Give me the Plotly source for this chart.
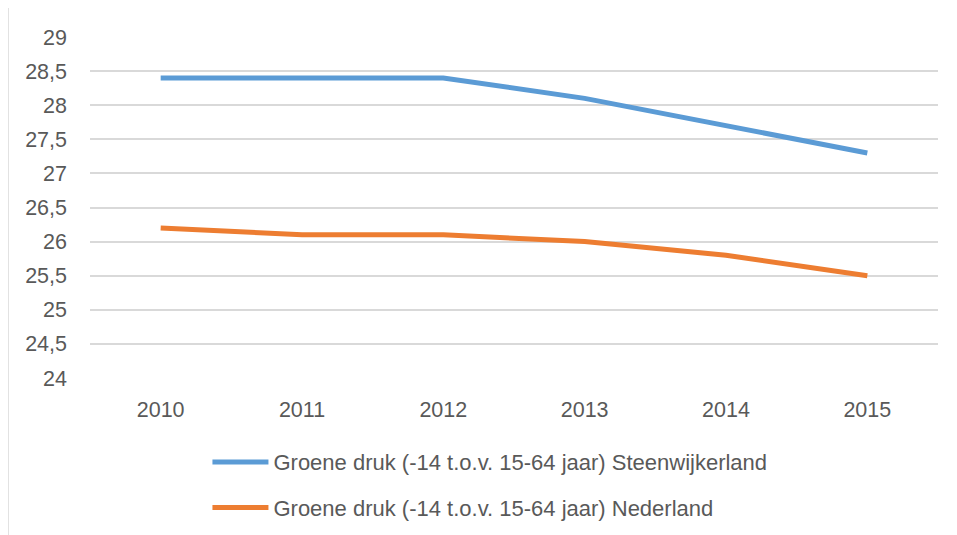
import plotly.graph_objects as go

years = ["2010", "2011", "2012", "2013", "2014", "2015"]
steenwijkerland = [28.4, 28.4, 28.4, 28.1, 27.7, 27.3]
nederland = [26.2, 26.1, 26.1, 26.0, 25.8, 25.5]
name_s = "Groene druk (-14 t.o.v. 15-64 jaar) Steenwijkerland"
name_n = "Groene druk (-14 t.o.v. 15-64 jaar) Nederland"

FONT = "Liberation Sans"
TXT = "#595959"
GRID = "#d9d9d9"

fig = go.Figure()
fig.add_trace(go.Scatter(x=years, y=steenwijkerland, mode="lines", name=name_s,
                         line=dict(color="#5B9BD5", width=5), legendgroup="a"))
fig.add_trace(go.Scatter(x=years, y=nederland, mode="lines", name=name_n,
                         line=dict(color="#ED7D31", width=5), legendgroup="b"))

fig.update_layout(
    width=949, height=527,
    margin=dict(l=82, r=19, t=29, b=157, autoexpand=False),
    paper_bgcolor="white", plot_bgcolor="white",
    separators=",.",
    font=dict(family=FONT, size=21.5, color=TXT),
    xaxis=dict(type="category", range=[-0.5, 5.5], showgrid=False, zeroline=False,
               showline=False, ticks="", ticklabelstandoff=16, automargin=False,
               tickfont=dict(family=FONT, size=21.5, color=TXT)),
    yaxis=dict(range=[24, 29], dtick=0.5, tick0=24, showgrid=True, gridcolor=GRID,
               gridwidth=1.5, zeroline=False, showline=False, ticks="", automargin=False,
               ticklabelstandoff=22, tickfont=dict(family=FONT, size=21.5, color=TXT)),
    showlegend=True,
    legend=dict(orientation="v", x=0.1385, xanchor="left", y=-0.185, yanchor="top",
                font=dict(family=FONT, size=22, color=TXT), itemwidth=56,
                tracegroupgap=14, bgcolor="rgba(0,0,0,0)"),
    shapes=[dict(type="rect", xref="paper", yref="paper",
                 x0=(8 - 90) / 848, x1=1.05, y0=-0.6, y1=(378 - 7) / 341,
                 line=dict(color=GRID, width=1.5), layer="below")],
)

fig.write_html("out.html")
